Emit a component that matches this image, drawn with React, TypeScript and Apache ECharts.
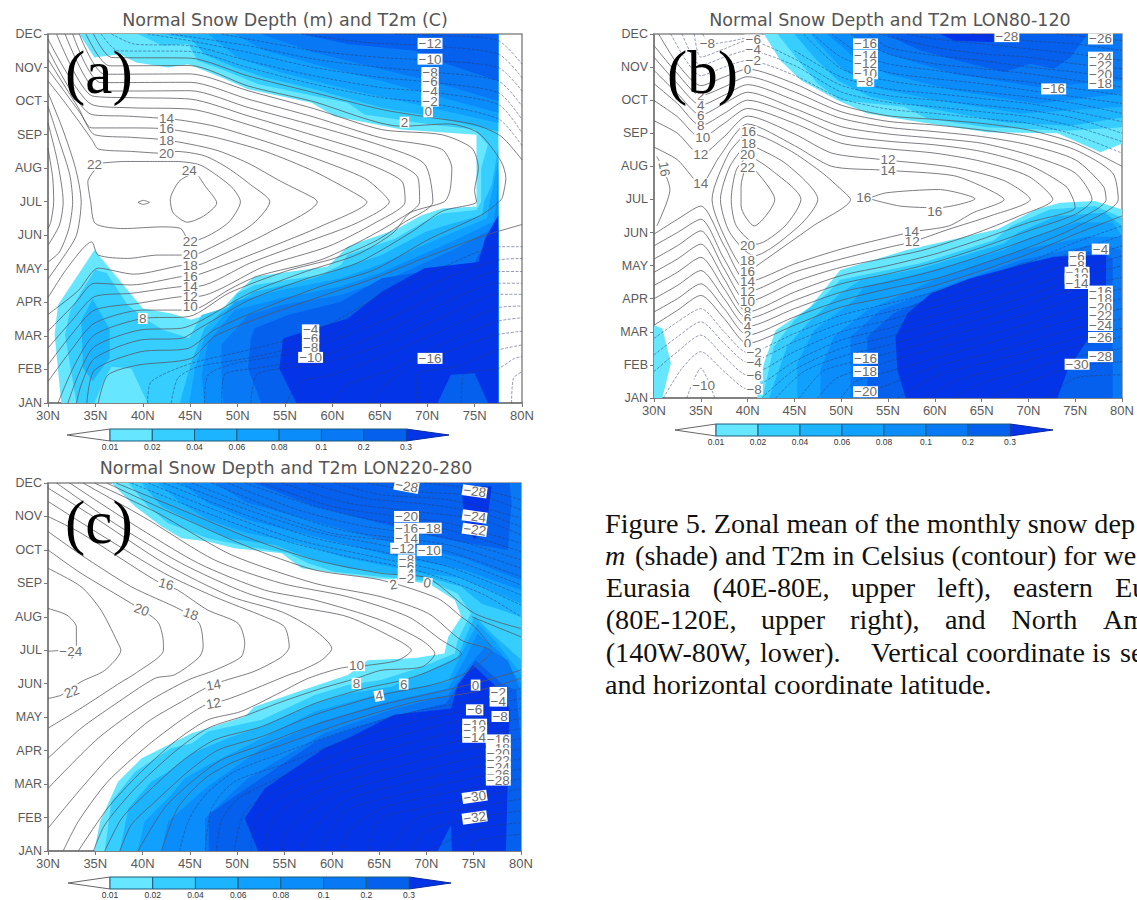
import React, { useEffect, useRef } from "react";
import * as echarts from "echarts";

const MONTHS = ["JAN","FEB","MAR","APR","MAY","JUN","JUL","AUG","SEP","OCT","NOV","DEC"];
const LEVEL_LABELS = ["0.01","0.02","0.04","0.06","0.08","0.1","0.2","0.3"];
const LEVEL_COLORS = ["#66E6FF","#36CDFF","#1DB4FF","#10A0FF","#0B8CFB","#0878F5","#0560EE","#0434E8"];
const TITLES = ["Normal Snow Depth (m) and T2m (C)","Normal Snow Depth and T2m LON80-120","Normal Snow Depth and T2m LON220-280"];
const PANEL_TAGS = ["(a)","(b)","(c)"];

// ---- Panel (a): snow depth regions [level, ring of [lat, month index]]
const aShade0 = [[33.3,11],[34.9,10.3],[37.6,10.4],[39.3,10.15],[42.7,10],[44.8,10.1],[48.3,9.7],[51.1,9.35],[57.8,8.95],[60.2,8.55],[67.3,8.15],[75.2,8],[75.2,5.86],[71.6,5.8],[69.4,5.6],[66.7,5.17],[62.6,4.77],[61.6,4.66],[59.5,4.07],[51.8,3.77],[49.7,3.22],[48.3,2.77],[45.1,2.48],[43,2.67],[40,2.82],[34.9,4.56],[31.05,2.92],[30.7,2.03],[31.4,0],[77.5,0],[77.5,11]];
const aShade1 = [[39.5,11],[42.1,10.65],[44.8,10.7],[45.8,10.2],[48.3,9.95],[52.2,9.5],[58.1,9.15],[61.6,8.95],[63.4,8.6],[70.4,8.3],[75,8.15],[76.4,7.7],[75.7,7],[75.7,6],[75.2,5.75],[71.6,5.65],[69.7,5.4],[66.6,4.9],[61.6,4.41],[60.9,4.12],[58.8,3.82],[51.8,3.52],[50,3.27],[49,2.87],[46.2,2.62],[44.9,1.93],[42.1,2.18],[40.2,2.52],[38.4,2.92],[36.2,3.87],[35,3.97],[33.5,3.32],[32.3,2.72],[31.8,2.03],[33,0],[77.5,0],[77.5,11]];
const aBlob = [[34.9,0],[36,0.74],[36.7,1.08],[38.8,1.03],[40.5,0]];
const aShade2 = [[42.1,11],[45.1,10.85],[46.5,10.4],[49.7,10],[52.9,9.7],[58.1,9.35],[65.2,8.8],[70.4,8.55],[77.5,8.1],[77.5,7.6],[76.8,6.5],[76,6],[75.8,5.6],[72,5.3],[69.8,5.1],[65.2,4.41],[60.9,4.02],[58.1,3.72],[51.8,3.32],[48.3,2.72],[46.5,2.23],[45.1,1.2],[43.9,0],[77.5,0],[77.5,11]];
const aShade2Left = [[34.7,3.1],[36.5,2.2],[36.5,1.35],[34.7,0.65],[33.7,1.05],[33.5,2.45]];
const aShade3 = [[46.9,11],[50,10.3],[54.6,9.85],[61.6,9.35],[70.4,8.8],[77.5,8.35],[77.5,7.3],[77,6.5],[76.6,6],[76.3,5.5],[72,5],[65.2,4.15],[60.9,3.72],[54.6,3.37],[49.7,3.02],[46.5,1.93],[45.5,1.03],[44.9,0],[77.5,0],[77.5,11]];
const aShade4 = [[49.7,11],[52.9,10.5],[58.1,10.1],[65.2,9.6],[70.4,9.2],[77.5,8.65],[77.5,7],[77.3,6],[77,5.4],[72.5,4.8],[65.2,3.9],[60.9,3.47],[54.6,3.12],[49.7,2.77],[46.9,1.83],[46.2,0.84],[46.5,0],[77.5,0],[77.5,11]];
const aShade5 = [[52.5,11],[58.1,10.45],[65.2,9.95],[70.4,9.6],[77.5,9],[77.5,5.3],[73,4.6],[66,3.7],[60.9,3.22],[54.6,2.92],[51.1,2.62],[48.3,1.73],[48.3,0.84],[48.5,0],[77.5,0],[77.5,11]];
const aShade6 = [[56.7,11],[61.6,10.7],[68.7,10.5],[72.2,10.1],[77.5,9.6],[77.5,5.2],[75.4,4.41],[75,4.16],[65.2,3.72],[60.9,3.02],[55.3,2.62],[51.8,2.23],[51.4,1.93],[51.1,1.03],[52.5,0],[77.5,0],[77.5,11]];
const aShade7 = [[77.5,5.6],[76.1,4.9],[75.4,4.2],[69.7,4.02],[65.2,3.32],[61.6,2.52],[54.8,1.93],[54.4,1.03],[56.2,0],[77.5,0]];
const aBump = [[71.1,0],[72.5,0.84],[75,0.89],[76.4,0]];
const aRegions = [[0,aShade0],[1,aShade1],[0,aBlob],[2,aShade2],[2,aShade2Left],[3,aShade3],[4,aShade4],[5,aShade5],[6,aShade6],[7,aShade7],[6,aBump]];

// ---- Panel (a): T2m contours, solid (>= 0) and dashed (< 0)
const aSolid = [
  [[45,6.81],[43.8,6.6],[42.9,6.06],[43.2,5.67],[44.7,5.39],[46.4,5.57],[47.8,5.96],[46.6,6.46],[45.9,6.76]],
  [[39.5,5.98],[40,6.04],[40.7,5.98],[40,5.92],[39.5,5.98]],
  [[35.6,7.15],[38,7.2],[41,7.2],[43.5,7.2],[46,7.1],[48,6.75],[49.5,6.4],[50.3,6],[49.1,5.4],[47,5],[45,4.8],[44,5.2],[42,5.25],[38,5.2],[35,5.35],[34.5,6],[34.2,6.6],[35.6,7.15]],
  [[30,9.6],[31.4,9.1],[33.5,8.3],[34.7,7.82],[35.3,7.57],[38.8,7.5],[42.5,7.44],[43.5,7.5],[46.5,7.37],[49,7],[51.4,6.5],[53.4,6],[51.3,5.27],[46,4.47],[45,4.43],[44,4.41],[41.6,4.41],[38.4,4.31],[35.3,4.41],[34.6,4.8],[32.1,4.05],[30,3.14]],
  [[30,9.95],[33.5,8.6],[34.9,8],[38.8,7.92],[42.5,7.84],[47.6,7.55],[51.1,7.15],[54.6,6.6],[58.1,6.1],[58.4,6],[53.2,5.07],[47.6,4.32],[45.9,4.12],[44.1,4.1],[39.1,3.84],[35.3,4.02],[33.2,3.35],[30,2.64]],
  [[30,10.25],[33.2,8.8],[34.6,8.2],[38.8,8.2],[42.5,8.17],[47.6,7.92],[52.9,7.5],[58.1,6.9],[62.7,6.2],[63.65,6],[58.8,5.27],[53.2,4.62],[45.9,3.83],[44.1,3.77],[38.8,3.52],[34.9,3.57],[32.8,2.95],[30,2.14]],
  [[30,10.55],[34.6,8.6],[38.5,8.55],[43.5,8.45],[47.6,8.25],[52.9,7.8],[58.1,7.3],[63.4,6.7],[65.5,6.2],[66,6],[62.6,5.37],[57,4.77],[51.3,4.17],[45.9,3.48],[44.1,3.47],[38.8,3.27],[34.9,3.17],[32.5,2.45],[30,1.64]],
  [[30,10.85],[34.6,8.9],[38.8,8.8],[45,8.76],[51.1,8.3],[58.1,7.67],[63.4,7.17],[67.3,6.62],[67.67,6],[64.5,5.37],[59.6,4.67],[52.8,4.07],[45.9,3.18],[44.1,3.17],[39.5,2.97],[34.9,2.77],[32.5,2.05],[30,1.14]],
  [[30.9,11],[34.7,9.15],[39,9.1],[45,9.06],[51.1,8.56],[58.1,7.97],[65.2,7.33],[69,6.73],[69.2,6],[66.4,5.37],[62.6,4.77],[58.8,4.27],[52.1,3.78],[49.1,3.38],[45.9,2.83],[44.1,2.77],[40,2.77],[34.9,2.38],[32.5,1.6],[30,0.64]],
  [[31.8,11],[35.3,9.3],[39,9.3],[45,9.31],[51.1,8.81],[58.1,8.27],[65.2,7.67],[69.7,7.13],[70.6,6],[67.5,5.37],[64.5,4.82],[60.3,4.32],[55.1,3.93],[49.1,3.28],[44.9,2.58],[40,2.52],[34.9,2.03],[32.8,1.13],[31.05,0]],
  [[32.6,11],[35.6,9.55],[45,9.56],[51.1,9.06],[58.1,8.52],[65.2,7.9],[71.5,7.57],[72.6,7],[72.4,6.33],[71.8,6],[68.2,5.67],[66.4,5.07],[62.6,4.42],[57.3,3.93],[51.3,3.28],[46.05,2.44],[44.1,2.23],[39.8,2.18],[34.9,1.68],[33.2,0.84],[32.1,0]],
  [[33.3,11],[36,9.8],[45,9.81],[51.1,9.31],[58.1,8.77],[65.2,8.15],[71.5,8],[74.7,7.6],[75.4,7],[75,6.33],[75.2,6],[71.6,5.72],[68.2,5.07],[62.6,4.17],[57,3.68],[51.3,3.08],[46.05,2.24],[44.1,1.93],[39.8,1.88],[34.9,1.33],[33.5,0.54],[33,0]],
  [[34,11],[36.5,10.05],[45,10.06],[51.1,9.45],[57.8,9],[67.3,8.25],[72.2,8.32],[75.4,8.05],[77.8,7.2],[78.3,6.7],[78,6.2],[77.8,6.06],[75.8,5.62],[70.1,4.87],[64.5,3.98],[58.8,3.48],[53.2,2.88],[47.6,2.19],[44.8,1.63],[39.8,1.53],[34.9,0.98],[34.1,0]],
  [[34.8,11],[36.7,10.3],[45,10.28],[51.1,9.75],[58.1,9.25],[65.2,8.75],[70.1,8.52],[75,8.3],[77.8,7.95],[80,7.25]],
  [[80,5.32],[75.8,4.97],[70.1,4.37],[64.5,3.73],[58.8,3.18],[53.2,2.63],[47.6,1.99],[45.1,1.33],[39.5,1.13],[36.3,0.83],[35.3,0]],
  [[30,9.25],[31.5,8.2],[32.9,7],[33.5,6],[33,5],[31.5,4.3],[30,3.7]],
  [[30,8.85],[31.2,7.8],[32.3,6.8],[32.6,6],[32.2,5.2],[31.2,4.5],[30,4.2]],
  [[30,8.35],[31,7.2],[31.6,6],[31.2,5.3],[30,4.7]],
  [[30,7.6],[30.5,6.7],[30.6,6],[30.3,5.4],[30,5.2]],
];
const aDashed = [
  [[35.6,11],[37.4,10.5],[45,10.48],[51.1,10],[58.1,9.5],[65.2,9.1],[70.1,8.95],[77.5,8.47],[80,7.67]],
  [[36.7,11],[39.1,10.7],[45,10.65],[51.1,10.2],[58.1,9.75],[65.2,9.4],[70.1,9.28],[77.5,8.9],[80,8.05]],
  [[40.5,11],[45,10.8],[51.1,10.45],[58.1,10],[65.2,9.7],[70.1,9.57],[77.5,9.25],[80,8.45]],
  [[43,11],[51.1,10.65],[58.1,10.25],[65.2,10],[70.1,9.88],[77.5,9.6],[80,8.85]],
  [[48.3,11],[58.1,10.5],[65.2,10.3],[70.1,10.22],[77.5,10],[80,9.3]],
  [[56.7,11],[63.4,10.75],[70.1,10.65],[77.5,10.4],[80,9.7]],
  [[66.6,11],[72,10.95],[77.5,10.8],[80,10.1]],
  [[40.5,0],[40.9,0.64],[45.1,1.18],[51.1,1.58],[58.1,2.13],[65.2,3.22],[72.2,4.12],[77.5,4.66],[80,4.66]],
  [[43,0],[43.7,0.74],[45.8,1.08],[51.1,1.34],[58.1,1.83],[65.2,2.82],[72.2,3.76],[77.5,4.26],[80,4.31]],
  [[46.5,0],[46.9,0.84],[49.7,1.18],[56.4,1.53],[65.2,2.43],[72.2,3.37],[77.5,3.92],[80,3.92]],
  [[48.3,0],[48.6,0.84],[51.8,1.03],[58.1,1.33],[65.2,2.08],[72.2,3.04],[77.5,3.57],[80,3.57]],
  [[51.4,0],[52,0.84],[54.6,1.03],[58.1,1.13],[65.2,1.73],[72.2,2.64],[77.5,3.24],[80,3.24]],
  [[55.1,0],[56.7,0.64],[59.9,0.84],[65.2,1.39],[72.2,2.24],[77.5,2.84],[80,2.89]],
  [[59.9,0],[61.6,0.54],[66.6,1.03],[72.2,1.84],[77.5,2.44],[80,2.54]],
  [[63.8,0],[65.5,0.54],[68.7,1.13],[74,1.73],[77.5,2.04],[80,2.14]],
  [[68.9,0],[68.9,0.84],[72.9,1.08],[77.5,1.58],[80,1.73]],
  [[73.6,0],[73.8,0.84],[77.5,1.03],[79.2,1.33],[80,1.38]],
  [[78.9,0],[79.1,0.74],[80,0.93]],
];
const aLabels = [
  [70.3,10.72,"−12"],[70.3,10.25,"−10"],[70.3,9.85,"−8"],[70.3,9.57,"−6"],[70.3,9.28,"−4"],[70.3,9,"−2"],[70.1,8.68,"0"],[67.6,8.37,"2"],
  [42.5,8.47,"14"],[42.5,8.17,"16"],[42.5,7.84,"18"],[42.5,7.44,"20"],[34.9,7.1,"22"],[44.9,6.94,"24"],
  [45,4.81,"22"],[45,4.43,"20"],[45,4.1,"18"],[45,3.77,"16"],[45,3.47,"14"],[45,3.17,"12"],[45,2.87,"10"],[40,2.52,"8"],
  [57.7,2.18,"−4"],[57.7,1.93,"−6"],[57.7,1.66,"−8"],[57.7,1.36,"−10"],[70.3,1.33,"−16"],
];

// ---- Panel (b)
const bShade0Top = [[41.75,11],[43.5,10.2],[45.7,9.6],[49.6,9],[52.8,8.6],[58.5,8.33],[65.6,8.03],[73.1,8],[77.7,7.43],[80,7.68],[80,11]];
const bShade1Top = [[43.2,11],[45.7,10.1],[47.5,9.5],[49.9,9],[56.7,8.8],[59.2,8.45],[65.6,8.18],[74.2,8.08],[80,8.18],[80,11]];
const bShade2Top = [[45,11],[47.1,10.3],[49.6,9.6],[53.1,9.1],[60.3,8.7],[67.4,8.33],[74.5,8.23],[80,8.48],[80,11]];
const bShade3Top = [[46.7,11],[49.9,10],[53.1,9.4],[60.3,9],[69.2,8.6],[80,8.8],[80,11]];
const bShade4Top = [[48.5,11],[51.4,10.3],[54.9,9.8],[62,9.3],[71,8.9],[80,9.2],[80,11]];
const bShade5Top = [[51,11],[54.9,10.4],[62,9.8],[71,9.4],[80,9.6],[80,11]];
const bShade6Top = [[54.6,11],[58.5,10.5],[63.8,10.1],[67.4,9.85],[70.2,10.1],[72.7,9.95],[74.5,10.3],[76.3,11]];
const bShade7Top = [[60.6,11],[62,10.8],[66.3,10.75],[66.3,11]];
const bPatch = [[30,2.2],[30.9,2.1],[31.8,1.05],[30.9,0],[30,0]];
const bShade0 = [[41,0],[41.75,1.05],[43,2.05],[46.7,2.76],[49.9,3.87],[57,4.47],[66.7,5.1],[70.8,5.7],[73.4,5.9],[77.1,5.95],[80,5.7],[80,0]];
const bShade1 = [[41.6,0],[42.8,1.55],[45,2.36],[48.5,3.16],[49.9,3.57],[58.5,4.07],[66.3,4.77],[68.2,5.2],[72.3,5.7],[77.1,5.8],[80,5.45],[80,0]];
const bShade2 = [[42.3,0],[44.2,1.55],[46.4,2.26],[49.9,3.16],[52.1,3.57],[58.5,3.92],[67.4,4.67],[68.9,5],[73,5.5],[78.2,5.6],[80,5.2],[80,0]];
const bShade3 = [[45.3,0],[45.3,1.05],[47.1,2.05],[51.4,2.96],[52.4,3.37],[58.5,3.77],[67.4,4.47],[69.7,4.8],[75.2,5.3],[79,5.3],[80,4.9],[80,0]];
const bShade4 = [[47.8,0],[47.8,0.85],[49.2,1.85],[52.8,2.66],[60.3,3.62],[69.2,4.47],[76.3,4.87],[79.9,4.87],[80,4.6],[80,0]];
const bShade5 = [[51,0],[51,1.85],[54.2,2.66],[61,3.36],[69.2,4.17],[77.4,4.67],[79.9,4.47],[80,0]];
const bShade6 = [[52.8,0],[52.8,1.85],[55.6,2.56],[61.3,3.26],[69.2,4.07],[77.4,4.47],[79,4.2],[79,0]];
const bShade7 = [[56.9,0],[56,0.85],[55.8,1.85],[57.1,2.56],[59.6,3.16],[63.8,3.62],[69.2,4.02],[72.7,4.27],[78.3,4.32],[78.3,3.36],[76.3,1.75],[74.2,0.85],[73.1,0]];
const bRegions = [[0,bShade0Top],[1,bShade1Top],[2,bShade2Top],[3,bShade3Top],[4,bShade4Top],[5,bShade5Top],[6,bShade6Top],[7,bShade7Top],[0,bPatch],[0,bShade0],[1,bShade1],[2,bShade2],[3,bShade3],[4,bShade4],[5,bShade5],[6,bShade6],[7,bShade7]];

const bSolid = [
  [[40.1,7.1],[42.9,6],[40.7,5.2],[39.3,5.8],[39.3,6.4],[39.7,6.9],[40.1,7.1]],
  [[40.1,7.35],[42.5,6.9],[45.7,6],[44,5.2],[41,4.65],[38.8,5.2],[38.25,6],[38.8,6.9],[40.1,7.35]],
  [[39.9,7.7],[44,7.1],[47.5,6],[45.5,5.2],[40.7,4.3],[38.1,5],[37.1,6],[38.1,7],[39.9,7.7]],
  [[40,8.05],[42,7.85],[45,7.4],[48,6.8],[50,6.3],[51,6],[47,5.2],[44,4.6],[41,4],[40,3.81],[38,4.6],[36.2,6],[38,7.4],[40,8.05]],
  [[52.9,6.03],[54.8,6.2],[60.4,6.3],[64.3,6.02],[60.4,5.75],[56.3,5.8],[52.9,6.03]],
  [[30.3,7.3],[31.7,6.3],[30.3,5.2]],
  [[30,7.58],[32.5,7.2],[35,6.47],[37,7.3],[40,8.28],[45,7.63],[49,7],[54.2,6.89],[62,6.72],[65.6,6.32],[67.4,6],[64.1,5.6],[61.5,5.2],[57.8,5.03],[55,4.85],[50,4.5],[45,4.05],[40,3.51],[37.5,4.6],[35,5.8],[32.5,5.4],[30,4.95]],
  [[30,8.38],[32.5,8],[35,7.35],[37.5,7.9],[40,8.52],[45,7.98],[49,7.4],[54.2,7.21],[62,6.97],[67.4,6.57],[70.2,6],[65.9,5.5],[61.5,5.1],[57.6,4.72],[55,4.55],[50,4.2],[45,3.8],[40,3.21],[37.5,4.2],[35,5.4],[32.5,5],[30,4.6]],
  [[30,8.99],[32.5,8.5],[35,7.86],[37.5,8.3],[40,8.75],[45,8.3],[50,7.7],[55,7.53],[60,7.4],[65,7.15],[70,6.7],[72.6,6],[69,5.5],[64.1,4.95],[58.5,4.45],[50,3.95],[45,3.51],[40,2.91],[37.5,3.9],[35,5.05],[32.5,4.6],[30,4.2]],
  [[30,9.5],[32.5,8.9],[35,8.23],[37.5,8.6],[40,9],[45,8.55],[50,7.95],[55,7.76],[60,7.65],[65,7.45],[70,7.05],[74,6.4],[74.8,6],[75,5.75],[70,5.3],[65,4.8],[60,4.35],[55,4],[50,3.7],[45,3.2],[40,2.6],[37.5,3.6],[35,4.65],[32.5,4.2],[30,3.8]],
  [[30,9.9],[32.5,9.2],[35,8.55],[37.5,8.9],[40,9.24],[45,8.75],[50,8.2],[55,7.98],[60,7.85],[65,7.7],[70,7.35],[75,6.8],[76.8,6],[75,5.55],[70,5.05],[65,4.55],[60,4.1],[55,3.75],[50,3.45],[45,2.95],[40,2.4],[37.5,3.3],[35,4.25],[32.5,3.8],[30,3.4]],
  [[30,10.3],[32.5,9.5],[35,8.85],[37.5,9.15],[40,9.47],[45,9],[50,8.45],[55,8.18],[60,8.05],[65,7.9],[70,7.65],[75,7.2],[78,6.4],[78.3,6],[75,5.35],[70,4.8],[65,4.3],[60,3.85],[55,3.5],[50,3.2],[45,2.7],[40,2.16],[37.5,3],[35,3.85],[32.5,3.4],[30,3]],
  [[30,10.65],[32.5,9.8],[35,9.14],[37.5,9.4],[40,9.71],[45,9.25],[50,8.65],[55,8.36],[60,8.25],[65,8.1],[70,7.9],[75,7.5],[79,6.8],[79.6,6],[75,5.15],[70,4.55],[65,4.05],[60,3.6],[55,3.3],[50,2.95],[45,2.45],[40,1.9],[37.5,2.7],[35,3.45],[32.5,3],[30,2.6]],
  [[30.5,11],[32.5,10.1],[35,9.44],[37.5,9.7],[40,9.94],[45,9.5],[50,8.85],[55,8.53],[60,8.42],[65,8.3],[70,8.1],[75,7.7],[80,7]],
  [[80,5.5],[75,4.95],[70,4.35],[65,3.85],[60,3.4],[55,3.05],[50,2.75],[45,2.2],[40,1.65],[37.5,2.4],[35,3.1],[32.5,2.65],[30,2.2]],
];
const bDashed = [
  [[31.8,11],[35,9.74],[37.5,10],[40,10.2],[45,9.75],[50,9.05],[55,8.73],[60,8.6],[65,8.45],[70,8.3],[75,7.95],[80,7.4]],
  [[33,11],[35,10.05],[37.5,10.3],[40,10.5],[45,10.05],[50,9.25],[55,8.94],[60,8.8],[65,8.65],[70,8.5],[75,8.2],[80,7.75]],
  [[34.3,11],[35,10.3],[37.5,10.55],[40,10.8],[45,10.25],[50,9.45],[55,9.14],[60,9],[65,8.85],[70,8.7],[75,8.45],[80,8]],
  [[35.2,11],[36,10.7],[38.5,10.8],[41.5,11]],
  [[45,10.5],[50,9.7],[55,9.34],[60,9.2],[65,9.05],[70,8.9],[75,8.65],[80,8.35]],
  [[46,11],[50,9.95],[55,9.59],[60,9.4],[65,9.25],[70,9.1],[75,8.9],[80,8.6]],
  [[47,11],[50,10.3],[55,9.84],[60,9.65],[65,9.5],[70,9.3],[75,9.1],[80,8.9]],
  [[49,11],[52,10.4],[55,10.1],[60,9.9],[65,9.7],[70,9.55],[75,9.35],[80,9.15]],
  [[51,11],[55,10.4],[60,10.1],[65,9.95],[70,9.8],[75,9.6],[80,9.4]],
  [[53,11],[55,10.6],[60,10.35],[65,10.2],[70,10],[75,9.85],[80,9.65]],
  [[54,11],[60,10.6],[65,10.4],[70,10.3],[75,10.1],[80,9.95]],
  [[57,11],[60,10.85],[65,10.7],[70,10.55],[75,10.4],[80,10.2]],
  [[64,11],[70,10.8],[75,10.7],[80,10.5]],
  [[73,11],[75,10.95],[80,10.8]],
  [[30,1.8],[32.5,2.3],[35,2.7],[37.5,2],[40,1.37],[45,1.95],[50,2.5],[55,2.85],[60,3.2],[65,3.6],[70,4.1],[75,4.7],[80,5.2]],
  [[30,1.3],[32.5,1.85],[35,2.3],[37.5,1.65],[40,1.08],[45,1.7],[50,2.25],[55,2.6],[60,2.95],[65,3.4],[70,3.85],[75,4.45],[80,4.9]],
  [[30,0.8],[32.5,1.4],[35,1.9],[37.5,1.25],[40,0.69],[45,1.4],[50,2],[55,2.35],[60,2.75],[65,3.15],[70,3.6],[75,4.15],[80,4.6]],
  [[31,0],[33,0.9],[35,1.4],[37.5,0.8],[40,0.27],[45,1.1],[50,1.75],[55,2.1],[60,2.5],[65,2.9],[70,3.35],[75,3.85],[80,4.3]],
  [[33.5,0],[35,0.9],[36.5,0]],
  [[41.5,0],[45,0.85],[50,1.5],[55,1.85],[60,2.25],[65,2.65],[70,3.1],[75,3.6],[80,4]],
  [[43,0],[46,0.8],[50,1.25],[55,1.6],[60,2],[65,2.4],[70,2.85],[75,3.3],[80,3.65]],
  [[45.5,0],[48,0.8],[50,1],[55,1.35],[60,1.75],[65,2.15],[70,2.55],[75,3],[80,3.3]],
  [[47.5,0],[49.5,0.6],[55,1.1],[60,1.5],[65,1.85],[70,2.25],[75,2.7],[80,3]],
  [[50,0],[51.5,0.5],[55,0.8],[60,1.2],[65,1.6],[70,2],[75,2.4],[80,2.7]],
  [[51.5,0],[53.5,0.25],[55,0.4],[60,0.95],[65,1.3],[70,1.7],[75,2.1],[80,2.4]],
  [[56,0],[60,0.65],[65,1.05],[70,1.4],[75,1.8],[80,2.1]],
  [[59,0],[62,0.5],[65,0.75],[70,1.15],[75,1.55],[80,1.85]],
  [[62,0],[65,0.45],[70,0.85],[75,1.25],[80,1.5]],
  [[66,0],[70,0.5],[75,0.95],[80,1.1]],
  [[72,0],[75,0.6],[80,0.7]],
];
const bLabels = [
  [35.7,10.7,"−8"],[40.6,10.82,"−6"],[40.6,10.52,"−4"],[40.6,10.19,"−2"],[40,9.94,"0"],
  [35,9.14,"2"],[35,8.85,"4"],[35,8.55,"6"],[35,8.23,"8"],[35.2,7.86,"10"],[35,7.35,"12"],[35,6.47,"14"],
  [40.1,8.05,"16"],[40.1,7.7,"18"],[40,7.35,"20"],[40,6.97,"22"],[31.1,6.92,"16",-80],
  [55,7.22,"12"],[55,6.89,"14"],[52.4,6.05,"16"],[60,5.65,"16"],[57.5,5.03,"14"],[57.6,4.72,"12"],
  [40,4.62,"20"],[40,4.17,"18"],[40,3.82,"16"],[40,3.51,"14"],[40,3.21,"12"],[40,2.91,"10"],[40,2.6,"8"],[40,2.4,"6"],[40,2.16,"4"],[40,1.9,"2"],[40,1.65,"0"],
  [40.7,1.37,"−2"],[40.7,1.08,"−4"],[40.7,0.69,"−6"],[40.7,0.27,"−8"],[35.3,0.39,"−10"],
  [52.6,10.7,"−16"],[52.6,10.35,"−14"],[52.6,10.1,"−12"],[52.6,9.8,"−10"],[52.6,9.57,"−8"],[67.7,10.92,"−28"],
  [77.7,10.85,"−26"],[77.7,10.3,"−24"],[77.7,10.05,"−22"],[77.7,9.77,"−20"],[77.7,9.5,"−18"],[72.7,9.34,"−16"],
  [77.7,4.5,"−4"],[75.2,4.27,"−6"],[75.2,4,"−8"],[75.2,3.8,"−10"],[75.2,3.62,"−12"],[75.2,3.46,"−14"],
  [77.7,3.23,"−16"],[77.7,3.01,"−18"],[77.7,2.74,"−20"],[77.7,2.48,"−22"],[77.7,2.19,"−24"],[77.7,1.83,"−26"],[77.7,1.25,"−28"],[75.2,1.02,"−30"],
  [52.6,1.2,"−16"],[52.6,0.8,"−18"],[52.6,0.19,"−20"],
];

// ---- Panel (c)
const cShade0 = [[36.7,11],[39.2,10.3],[42,9.7],[44.1,9.35],[46.9,9.25],[49.7,9.05],[54.7,8.9],[56.8,8.45],[64.5,8.15],[68.8,8.05],[70.5,7.95],[73,7.5],[73.7,7],[72.3,6.4],[71.9,5.9],[68.8,5.77],[63.8,5.7],[61.7,5.26],[56.4,4.76],[51.8,4.31],[50.8,4.02],[45.2,3.52],[39.9,2.77],[37.4,2.07],[35.5,0.88],[34.9,0],[80,0],[80,11]];
const cShade1 = [[38.5,11],[40.6,10.3],[42.7,9.8],[46.9,9.35],[51.1,9.1],[55.4,8.9],[57.5,8.6],[60.3,8.35],[65.2,8.2],[70.5,8.05],[73.3,7.7],[74.7,7.1],[73.3,6.3],[73,5.9],[69.5,5.5],[65.2,5.11],[61.7,4.96],[58.2,4.66],[52.6,3.92],[46.9,3.57],[45.2,3.22],[43,3.07],[39.2,2.37],[36.7,1.47],[36,0],[80,0],[80,11]];
const cShade2Top = [[39.9,11],[42,10.3],[44.8,9.9],[49,9.35],[54,9.15],[58.2,8.7],[61.7,8.45],[68.8,8.2],[70.5,8.15],[73.7,7.9],[75.8,7.4],[80,7],[80,11]];
const cShade3Top = [[41.6,11],[44.1,10.4],[46.9,9.9],[51.1,9.5],[56.4,9.2],[61.7,8.75],[68.8,8.35],[73.7,8.15],[80,7.4],[80,11]];
const cShade4Top = [[44.1,11],[46.9,10.4],[51.1,9.9],[58.2,9.4],[65.2,8.9],[74,8.4],[80,7.8],[80,11]];
const cShade5Top = [[47.6,11],[51.1,10.4],[58.2,9.85],[65.2,9.3],[74,8.75],[80,8.1],[80,11]];
const cShade6Top = [[51.8,11],[58.2,10.3],[65.2,9.8],[72.3,9.3],[78.6,9],[79,10.4],[78.8,11]];
const cOval = [[73.7,10.9],[76.9,10.9],[76.5,10],[75.1,9.3],[74,9.9]];
const cShade2 = [[37.6,0],[38.5,1.28],[40.9,2.07],[42.7,2.37],[45.2,2.92],[49,3.37],[52.6,3.72],[58.2,4.41],[61.7,4.71],[66.3,4.91],[70.5,5.42],[73.3,5.8],[74,6.3],[75.1,7.02],[76.9,6.5],[80,5.72],[80,0]];
const cShade3 = [[39.5,0],[40.2,0.88],[43,1.67],[44.4,2.17],[46.9,2.57],[52.6,3.37],[58.2,4.17],[65.2,4.71],[72.3,5.06],[73.7,5.9],[75.4,6.8],[77.2,6.3],[80,5.3],[80,0]];
const cShade4 = [[42,0],[42.7,0.88],[46.6,1.87],[52.6,3.07],[58.9,3.87],[65.9,4.46],[72.3,4.86],[74,5.7],[75.4,6.5],[77.9,5.9],[80,5],[80,0]];
const cShade5 = [[46.6,0],[46.6,0.98],[51.1,2.17],[59.2,3.52],[66.3,4.22],[72.3,4.66],[74.6,5.56],[75,5.7],[76.2,6.1],[78.6,5.7],[80,4.76],[80,0]];
const cShade6 = [[47,0],[47,1.1],[51.1,1.9],[58.5,3.3],[65.9,4],[72,4.4],[74.5,5.4],[75.2,5.7],[78,5],[79.5,4.8],[80,3.2],[80,0]];
const cShade7 = [[52.2,0],[50.8,0.98],[52.9,1.87],[59.2,3.07],[61.7,3.37],[66.6,4.07],[72.6,4.26],[73.3,4.96],[74.9,5.56],[77.2,4.96],[78.8,4.26],[78.4,0]];
const cBump = [[71.2,0],[72.6,0.78],[72.7,0]];
const cRegions = [[0,cShade0],[1,cShade1],[2,cShade2Top],[3,cShade3Top],[4,cShade4Top],[5,cShade5Top],[6,cShade6Top],[7,cOval],[2,cShade2],[3,cShade3],[4,cShade4],[5,cShade5],[6,cShade6],[7,cShade7],[6,cBump]];

const cSolid = [
  [[30,7.25],[32,7.05],[33,6.7],[33,6.1],[32.5,5.75]],
  [[30,5.97],[31.6,6]],
  [[30,8.45],[33.5,7.9],[35.6,7.2],[37.6,6.1],[37.7,6],[36,5.4],[33.5,5.06],[31.4,4.66],[30,4.56]],
  [[30,9],[33.5,8.3],[38.8,7.4],[41.6,6.85],[42.2,6.2],[42.2,6],[39.2,5.3],[37.8,5.06],[33.5,4.27],[30,3.67]],
  [[30,9.55],[33.5,8.85],[38.8,7.9],[44.1,7.2],[46,6.8],[46.4,6.1],[46,5.8],[43.4,5.27],[41.3,5.16],[37,4.37],[33.5,3.67],[30,2.77]],
  [[30,10],[33.5,9.5],[41.3,8.1],[43.7,7.8],[46.9,7.2],[50.1,6.8],[50.8,6.2],[50.4,5.8],[47.6,5.4],[44.8,5.11],[40.6,4.46],[35.3,3.37],[30,1.87]],
  [[30,10.45],[35.3,9.5],[42.3,8.3],[47.6,7.6],[52.9,7],[55,6.7],[55.5,6.1],[54.7,5.8],[51.8,5.37],[48.3,5.06],[46.6,4.86],[44.1,4.46],[40.6,3.87],[37,2.97],[33.5,1.87],[30,0.68]],
  [[30,10.85],[35.3,9.9],[42.3,8.6],[49.4,7.6],[54.7,7.15],[58.2,6.6],[60,6.05],[58.9,5.7],[56.8,5.4],[55.4,5.26],[51.1,4.76],[48.7,4.51],[46.6,4.36],[44.1,3.92],[40.6,3.17],[36.3,2.07],[33.2,0.88],[31.6,0]],
  [[30.9,11],[37,9.8],[44.1,8.6],[51.1,7.7],[56.4,7.3],[61.7,7],[67,6.3],[68.4,6],[67,5.7],[63.5,5.54],[61,5.47],[57.5,5.16],[54.7,4.76],[50.4,4.17],[46.9,3.92],[43.4,3.27],[39.5,2.27],[36.3,1.28],[33.2,0]],
  [[32.3,11],[38.8,9.8],[45.9,8.6],[52.9,7.8],[58.2,7.5],[65.2,6.9],[69.5,6.3],[70.9,5.9],[69.5,5.5],[65.2,5.4],[62.6,5.16],[58.9,4.86],[54.7,4.46],[51.1,4.07],[46.9,3.67],[43.4,2.97],[39.2,1.87],[36,0.78],[34.8,0]],
  [[33.7,11],[40.6,9.9],[47.6,8.7],[54.7,8],[61.7,7.6],[68.1,7],[71.6,6.3],[73.7,5.9],[70.5,5.4],[67.6,5.11],[63.5,4.86],[58.2,4.41],[52.6,3.72],[47.6,3.32],[44.1,2.67],[40.2,1.67],[37.8,0.98],[36,0]],
  [[34.9,11],[41.6,10.1],[49.4,8.85],[58.2,8],[65.2,7.6],[70.2,7.1],[73.7,6.3],[76.9,5.97],[74,5.3],[70.5,4.96],[65.2,4.66],[58.2,4.07],[52.6,3.42],[48,3.02],[44.8,2.37],[41.3,1.47],[38.8,0.78],[37.6,0]],
  [[36.2,11],[42.3,10.2],[51.1,9.1],[58.2,8.4],[65.2,8.1],[71.2,7.55],[73.7,7],[75.1,6.7],[76.9,6.1]],
  [[74.8,7],[80,6.4]],
  [[80,5.41],[75.8,5.06],[70.5,4.71],[65.2,4.36],[58.2,3.77],[52.6,3.17],[48.3,2.72],[45.2,2.07],[42.3,1.28],[39.5,0]],
  [[37.2,11],[44.1,10.2],[51.8,9.3],[58.2,8.7],[65.2,8.3],[70.2,8.15],[75.1,7.1],[80,6.65]],
  [[80,5.16],[75.1,4.76],[68.8,4.46],[61.7,3.87],[54.7,3.17],[49.7,2.67],[46.6,2.17],[43.7,1.28],[42,0]],
];
const cDashed = [
  [[38.8,11],[45.9,10.2],[54.7,9.3],[61.7,8.8],[68.8,8.4],[75.8,7.7],[80,7]],
  [[40.6,11],[47.6,10.2],[56.4,9.3],[65.2,8.75],[72.3,8.3],[80,7.35]],
  [[42.2,11],[49.4,10.2],[58.2,9.35],[65.2,8.95],[72.3,8.5],[80,7.65]],
  [[43.6,11],[51.1,10.2],[58.2,9.55],[65.2,9.15],[72.3,8.75],[80,7.95]],
  [[45.2,11],[52.9,10.15],[60,9.5],[67,9.25],[72.3,8.95],[80,8.2]],
  [[47.3,11],[54.7,10.15],[61.7,9.55],[72.3,9.15],[80,8.45]],
  [[49,11],[56.4,10.2],[63.5,9.7],[72.3,9.35],[80,8.7]],
  [[50.8,11],[58.2,10.3],[65.2,9.85],[72.3,9.6],[80,8.95]],
  [[52.6,11],[60,10.3],[67,10],[72.3,9.8],[80,9.2]],
  [[54.7,11],[61.7,10.4],[68.8,10.15],[75.8,9.9],[80,9.45]],
  [[57.5,11],[63.5,10.55],[70.5,10.35],[75.8,10.1],[80,9.7]],
  [[60.3,11],[65.2,10.65],[72.3,10.5],[80,9.95]],
  [[63.8,11],[68.8,10.75],[75.8,10.6],[80,10.2]],
  [[69.8,11],[75.8,10.8],[80,10.5]],
  [[80,4.86],[75.1,4.51],[68.8,4.17],[61.7,3.62],[54.7,2.92],[49.7,2.37],[46.6,1.67],[44.8,0.88],[43.9,0]],
  [[80,4.56],[75.1,4.26],[68.8,3.87],[61.7,3.32],[54.7,2.57],[49.7,2.07],[47.3,1.28],[46.6,0]],
  [[80,4.26],[75.1,4],[68.8,3.57],[61.7,3.02],[54.7,2.22],[50.1,1.57],[48.3,0.88],[47.8,0]],
  [[80,3.96],[75.1,3.7],[68.8,3.27],[61.7,2.72],[54.7,1.92],[50.8,1.18],[49.7,0]],
  [[80,3.66],[75.1,3.4],[68.8,2.97],[61.7,2.42],[54.7,1.62],[51.8,0.88],[51.5,0]],
  [[80,3.36],[75.1,3.1],[68.8,2.67],[61.7,2.12],[55.4,1.37],[53.3,0.68],[52.9,0]],
  [[80,3.06],[75.1,2.8],[68.8,2.37],[61.7,1.82],[57.5,1.18],[55,0.48],[54.8,0]],
  [[80,2.76],[75.1,2.5],[68.8,2.1],[61.7,1.55],[59.2,0.98],[57.1,0.38],[56.8,0]],
  [[80,2.46],[75.1,2.2],[68.8,1.8],[61.7,1.25],[60,0.68],[58.7,0]],
  [[80,2.16],[75.1,1.9],[68.8,1.55],[65,1.25],[61.7,0.58],[61,0]],
  [[80,1.86],[75.1,1.6],[68.8,1.25],[65,0.95],[63.8,0]],
  [[80,1.56],[75.1,1.3],[68.8,0.95],[65.9,0]],
  [[80,1.2],[75.1,1],[70,0.6],[68.4,0]],
  [[80,0.85],[75.1,0.65],[70.2,0]],
  [[80,0.5],[75.1,0.3],[74.8,0]],
];
const cLabels = [
  [42.5,7.98,"16",-15],[45.1,7.08,"18",-20],[39.9,7.21,"20",-20],[32.4,5.97,"−24"],[32.5,4.76,"22",20],
  [47.5,4.96,"14",10],[47.5,4.41,"12",10],[62.6,5.54,"10"],[62.6,5.01,"8"],[65,4.64,"4",10],[67.6,4.99,"6"],[66.5,7.96,"2",10],[70.1,8.01,"0",-10],
  [67.9,10.9,"−28",-10],[75.1,10.75,"−28",-8],[75.1,10,"−24",-8],[75.1,9.6,"−22",-8],[67.9,10,"−20"],[70.3,9.65,"−18"],[67.9,9.65,"−16"],[67.9,9.35,"−14"],[67.5,9.05,"−12"],[70.3,8.98,"−10"],
  [67.9,8.7,"−8"],[67.9,8.5,"−6"],[67.9,8.3,"−4"],[67.9,8.15,"−2"],
  [75.2,4.96,"0"],[77.6,4.74,"−2"],[77.6,4.48,"−4"],[75.1,4.22,"−6"],[77.8,4.02,"−8"],[75.1,3.79,"−10"],[75.1,3.6,"−12"],[75.1,3.4,"−14"],
  [77.6,3.32,"−16"],[77.6,3.07,"−18"],[77.6,2.92,"−20"],[77.6,2.72,"−22"],[77.6,2.5,"−24"],[77.6,2.3,"−26"],[77.6,2.12,"−28"],
  [75.1,1.62,"−30",8],[75.1,1,"−32",8],
];

// ---- Caption lines, word by word (the source is justified and runs off the page)
const CAPTION_WORDS = [
  ["Figure 5. Zonal mean of the monthly snow dep"],
  ["m","(shade) and T2m in Celsius (contour) for we"],
  ["Eurasia","(40E-80E,","upper","left),","eastern","Eu"],
  ["(80E-120E,","upper","right),","and","North","Am"],
  ["(140W-80W,","lower).","Vertical","coordinate","is","se"],
  ["and horizontal coordinate latitude."],
];

// ---- Layout only
const CAPTION_X = [[605],[605,635],[605.7,712.8,851,937,1013,1115],[605.7,761,850,945,1011.5,1103],[605.7,760,871,966,1092,1120],[605]];
const CAPTION_Y = [523,555,587,619,652,684];
const FRAMES = [
  { left: 48, top: 34, width: 474, height: 369, titleX: 285, titleY: 20, tagX: 65, tagY: 72 },
  { left: 654, top: 34, width: 468, height: 364, titleX: 890, titleY: 20, tagX: 667, tagY: 72 },
  { left: 48, top: 483, width: 473, height: 368, titleX: 286, titleY: 468, tagX: 65, tagY: 522 },
];
const BARS = [
  { a: 67, b: 110, c: 406, d: 449, y0: 429, y1: 441 },
  { a: 675, b: 716, c: 1010, d: 1053, y0: 424, y1: 436 },
  { a: 68, b: 110, c: 409, d: 451, y0: 877, y1: 889 },
];
const PANELS = [
  { regions: aRegions, solid: aSolid, dashed: aDashed, labels: aLabels },
  { regions: bRegions, solid: bSolid, dashed: bDashed, labels: bLabels },
  { regions: cRegions, solid: cSolid, dashed: cDashed, labels: cLabels },
];

const LINE = "rgba(88,88,96,0.78)";
const LINE_NEG = "rgba(48,60,105,0.5)";
const AXIS_TEXT = "#5a5a5a";

function buildOption() {
  const grid = [], xAxis = [], yAxis = [], series = [], title = [], graphic = [];
  PANELS.forEach((p, i) => {
    const f = FRAMES[i];
    grid.push({ left: f.left, top: f.top, width: f.width, height: f.height, show: true, borderColor: "#8a8a8a", borderWidth: 1.5, backgroundColor: "#fff" });
    xAxis.push({
      gridIndex: i, type: "value", min: 30, max: 80, interval: 5, splitLine: { show: false },
      axisLine: { lineStyle: { color: "#777", width: 1.5 } }, axisTick: { length: 4, lineStyle: { color: "#777" } },
      axisLabel: { color: AXIS_TEXT, fontFamily: "Liberation Sans", fontSize: 13, margin: 6, formatter: (v) => `${v}N`, hideOverlap: false },
    });
    yAxis.push({
      gridIndex: i, type: "value", min: 0, max: 11, interval: 1, splitLine: { show: false },
      axisLine: { lineStyle: { color: "#777", width: 1.5 } }, axisTick: { length: 4, lineStyle: { color: "#777" } },
      axisLabel: { color: AXIS_TEXT, fontFamily: "Liberation Sans", fontSize: 12.5, margin: 6, formatter: (v) => MONTHS[v] },
    });
    series.push({
      type: "custom", xAxisIndex: i, yAxisIndex: i, z: 1, silent: true, clip: true,
      data: p.regions.map((_, k) => [k]),
      renderItem: (_params, api) => {
        const r = p.regions[api.value(0)];
        return { type: "polygon", shape: { points: r[1].map((q) => api.coord(q)) }, style: { fill: LEVEL_COLORS[r[0]] } };
      },
    });
    const contour = (data, dashed) => ({
      type: "line", xAxisIndex: i, yAxisIndex: i, z: 2, silent: true, showSymbol: false, symbol: "none", smooth: 0.25, clip: true, data,
      lineStyle: { color: dashed ? LINE_NEG : LINE, width: 1, type: dashed ? [3, 1.5] : "solid" },
    });
    p.solid.forEach((d) => series.push(contour(d, false)));
    p.dashed.forEach((d) => series.push(contour(d, true)));
    series.push({
      type: "scatter", xAxisIndex: i, yAxisIndex: i, z: 3, silent: true, symbolSize: 1, itemStyle: { color: "transparent", opacity: 1 },
      data: p.labels.map((l) => ({ name: l[2], value: [l[0], l[1]], label: { rotate: l[3] || 0 } })),
      label: { show: true, position: "inside", formatter: "{b}", color: "#6e6e6e", opacity: 1, fontFamily: "Liberation Sans", fontSize: 13.5, lineHeight: 11, backgroundColor: "#fff", padding: [0, 1] },
    });
    title.push({ text: TITLES[i], left: f.titleX, top: f.titleY - 10, padding: 0, textAlign: "center", textStyle: { color: "#555", fontFamily: "DejaVu Sans", fontWeight: "normal", fontSize: 17.5, lineHeight: 20 } });
    graphic.push({ type: "text", z: 20, x: f.tagX, y: f.tagY, style: { text: PANEL_TAGS[i], fill: "#000", fontFamily: "Liberation Serif", fontSize: 61, verticalAlign: "middle" } });

    const b = BARS[i];
    const mid = (b.y0 + b.y1) / 2;
    graphic.push({ type: "polygon", z: 20, shape: { points: [[b.a, mid], [b.b, b.y0], [b.b, b.y1]] }, style: { fill: "#fff", stroke: "#666", lineWidth: 1 } });
    graphic.push({ type: "polygon", z: 20, shape: { points: [[b.c, b.y0], [b.d, mid], [b.c, b.y1]] }, style: { fill: LEVEL_COLORS[7], stroke: "#0a2a9a", lineWidth: 1 } });
    const step = (b.c - b.b) / 7;
    for (let k = 0; k < 7; k++) {
      graphic.push({ type: "rect", z: 20, shape: { x: b.b + k * step, y: b.y0, width: step, height: b.y1 - b.y0 }, style: { fill: LEVEL_COLORS[k], stroke: "#1d5a7a", lineWidth: 1 } });
    }
    LEVEL_LABELS.forEach((t, k) => {
      graphic.push({ type: "text", z: 20, x: b.b + k * step, y: b.y1 + 6, style: { text: t, fill: "#333", fontFamily: "Liberation Sans", fontSize: 8.5, align: "center", verticalAlign: "middle" } });
    });
  });
  CAPTION_WORDS.forEach((line, r) => {
    line.forEach((w, k) => {
      const italic = r === 1 && k === 0;
      graphic.push({ type: "text", z: 20, x: CAPTION_X[r][k], y: CAPTION_Y[r], style: { text: w, fill: "#111", fontFamily: "Liberation Serif", fontSize: 28.2, fontStyle: italic ? "italic" : "normal", verticalAlign: "middle" } });
    });
  });
  return { animation: false, backgroundColor: "#fff", grid, xAxis, yAxis, series, title, graphic };
}

export default function App() {
  const ref = useRef(null);
  useEffect(() => {
    const chart = echarts.init(ref.current, null, { renderer: "svg" });
    chart.setOption(buildOption());
    return () => chart.dispose();
  }, []);
  return <div ref={ref} style={{ position: "absolute", left: 0, top: 0, width: 1137, height: 900 }} />;
}
